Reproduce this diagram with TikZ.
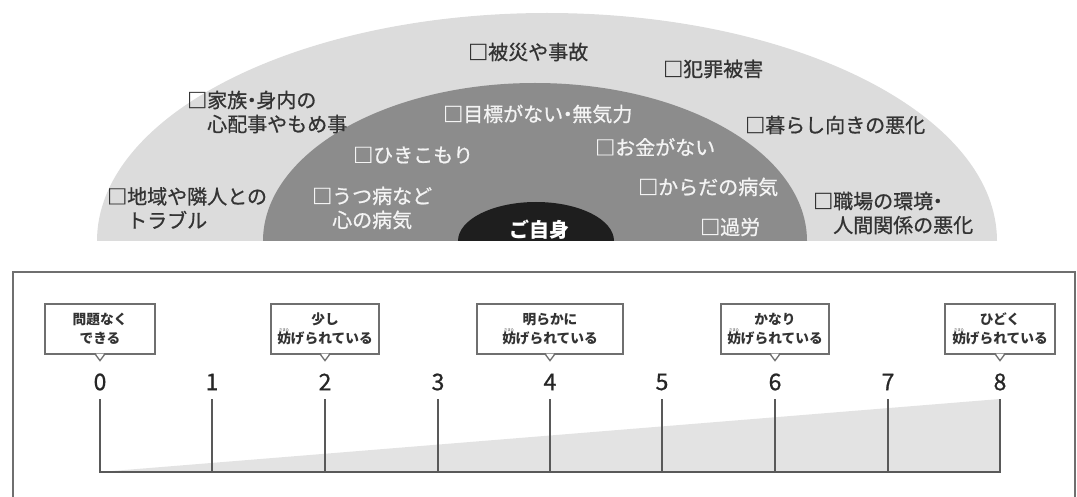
\documentclass[tikz,border=0pt]{standalone}
\usepackage{fontspec}
\setmainfont{Noto Sans CJK JP}
\newfontfamily\jpmed{Noto Sans CJK JP}[FakeBold=0.8]
\definecolor{outerg}{HTML}{DCDCDC}
\definecolor{midg}{HTML}{8C8C8C}
\definecolor{innerk}{HTML}{1E1E1E}
\definecolor{txtd}{HTML}{333333}
\definecolor{txtl}{HTML}{F4F4F4}
\definecolor{linec}{HTML}{6F6F6F}
\definecolor{wedgec}{HTML}{E3E3E3}
\newcommand{\nakaguro}{\kern-.27em・\kern-.27em}
\tikzset{
  outtext/.style={text=txtd, font=\jpmed\fontsize{20}{24}\selectfont, anchor=west, align=left, inner sep=0pt},
  intext/.style={text=txtl, font=\jpmed\fontsize{20}{24}\selectfont, anchor=west, align=left, inner sep=0pt},
  callout/.style={draw=linec, line width=1.3pt, fill=white, minimum height=50pt, inner sep=0pt, align=center, text=txtd, font=\fontsize{13.7}{19}\selectfont\bfseries},
  ruby/.style={text=txtd, font=\fontsize{3.5}{4}\selectfont, inner sep=0pt},
  num/.style={text=black!85, font=\jpmed\fontsize{23}{26}\selectfont, inner sep=0pt},
  tick/.style={draw=black!65, line width=1.5pt},
  frame/.style={draw=linec, line width=1.5pt}
}
\begin{document}
\begin{tikzpicture}[x=1pt,y=-1pt]
\useasboundingbox (0,0) rectangle (1077,497);
% half ellipses
\begin{scope}
  \clip (0,0) rectangle (1077,241);
  \fill[outerg] (547,241) ellipse[x radius=450, y radius=228];
  \fill[midg] (535,241) ellipse[x radius=272, y radius=158];
  \fill[innerk] (536,241) ellipse[x radius=78, y radius=39];
\end{scope}
% outer texts
\node[outtext] (t1) at (187,112) {□家族\nakaguro 身内の\\\hspace*{1em}心配事やもめ事};
\node[outtext] (t2) at (107,208) {□地域や隣人との\\\hspace*{1em}トラブル};
\node[outtext] (t3) at (468,52) {□被災や事故};
\node[outtext] (t4) at (663,69) {□犯罪被害};
\node[outtext] (t5) at (745,125) {□暮らし向きの悪化};
\node[outtext] (t6) at (813,213) {□職場の環境\nakaguro\\\hspace*{1em}人間関係の悪化};
% inner texts
\node[intext] (m1) at (443,114) {□目標がない\nakaguro 無気力};
\node[intext] (m2) at (353,155) {□ひきこもり};
\node[intext] (m3) at (595,147) {□お金がない};
\node[intext] (m4) at (312,208) {□うつ病など\\\hspace*{1em}心の病気};
\node[intext] (m5) at (638,187) {□からだの病気};
\node[intext] (m6) at (700,227) {□過労};
\node[text=white, font=\fontsize{20}{24}\selectfont\bfseries, inner sep=0pt] (me) at (539,230) {ご自身};
% frame
\draw[frame] (13,500) -- (13,272) -- (1075,272) -- (1075,500);
% scale
\foreach \i/\x in {0/100,1/212,2/325,3/438,4/550,5/662,6/775,7/888,8/1000} {
  \coordinate (b\i) at (\x,472);
  \coordinate (t\i) at (\x,399);
  \node[num] (n\i) at (\x,382) {\i};
}
\fill[wedgec] (b0) -- (b8) -- (t8) -- cycle;
\draw[tick] (t0) -- (b0) -- (b8) -- (t8);
\foreach \i in {1,...,7} { \draw[tick] (t\i) -- (b\i); }
% callouts
\node[callout, minimum width=110pt] (c0) at (100,329) {問題なく\\できる};
\node[callout, minimum width=108pt] (c2) at (325,329) {少し\\妨げられている};
\node[callout, minimum width=146pt] (c4) at (550,329) {明らかに\\妨げられている};
\node[callout, minimum width=108pt] (c6) at (775,329) {かなり\\妨げられている};
\node[callout, minimum width=110pt] (c8) at (1000,329) {ひどく\\妨げられている};
\foreach \c in {c0,c2,c4,c6,c8} {
  \fill[white] ([xshift=-4pt,yshift=1pt]\c.south) -- ++(4,6) -- ++(4,-6) -- cycle;
  \draw[linec, line width=1.3pt] ([xshift=-4.5pt]\c.south) -- ++(4.5,6) -- ++(4.5,-6);
}
\foreach \c in {c2,c4,c6,c8} {
  \node[ruby] (r\c) at ([xshift=-41pt]\c.center |- 0,330) {さまた};
}
\end{tikzpicture}
\end{document}
